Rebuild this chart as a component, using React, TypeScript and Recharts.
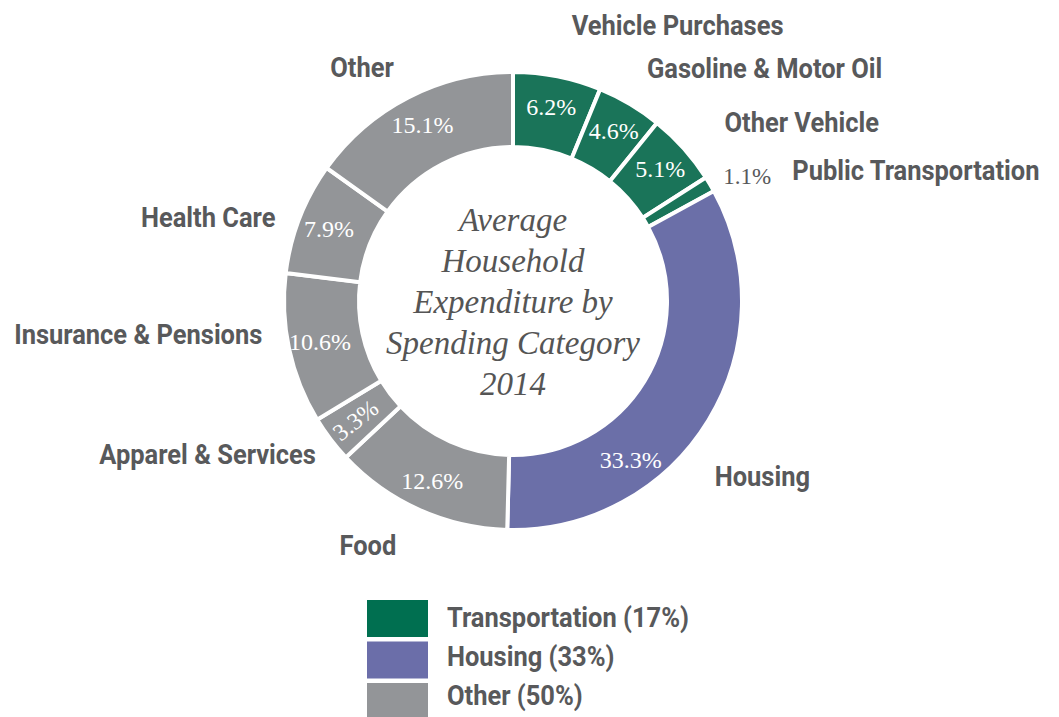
import React from 'react';
import { PieChart, Pie, Cell } from 'recharts';

const CATEGORIES = [
  'Vehicle Purchases', 'Gasoline & Motor Oil', 'Other Vehicle', 'Public Transportation',
  'Housing', 'Food', 'Apparel & Services', 'Insurance & Pensions', 'Health Care', 'Other',
];
const SHARES = [6.2, 4.6, 5.1, 1.1, 33.3, 12.6, 3.3, 10.6, 7.9, 15.1];
const CATEGORY_GROUP = [0, 0, 0, 0, 1, 2, 2, 2, 2, 2];

const GROUPS = ['Transportation', 'Housing', 'Other'];
const GROUP_SHARES = [17, 33, 50];

const TITLE_LINES = ['Average', 'Household', 'Expenditure by', 'Spending Category', '2014'];

const SLICE_COLORS = ['#1a7459', '#6b6fa8', '#939598'];
const LEGEND_COLORS = ['#006f50', '#6b6ea9', '#939598'];
const TEXT = '#58595b';
const SANS = "Roboto, 'Liberation Sans', sans-serif";
const SERIF = "'Liberation Serif', 'DejaVu Serif', serif";
const NARROW = 0.91; // squeeze the sans labels to look condensed

// label layout tweaks (nudges from the computed polar point)
const NAME_NUDGE: [number, number][] = [
  [12, -30], [11, -16], [32, -8], [72, 2], [-4, 59],
  [-18, 34], [-5, 17], [-15, -7], [-13, 13], [-9, -10],
];
const VALUE_ANGLE_SHIFT = [0, 0, 0, 0, -22, 0, 0, 0, 0, 0];
const VALUE_ROTATE = [0, 0, 0, 0, 0, 0, -38, 0, 0, 0];

const data = CATEGORIES.map((name, i) => ({ name, value: SHARES[i], group: CATEGORY_GROUP[i] }));

const RAD = Math.PI / 180;

function renderLabel(props: any) {
  const { cx, cy, midAngle, innerRadius, outerRadius, index, value } = props;
  const outer = outerRadius - 2 + 14;
  const nx = cx + outer * Math.cos(-midAngle * RAD);
  const ny = cy + outer * Math.sin(-midAngle * RAD);
  const right = Math.cos(-midAngle * RAD) >= 0;
  const [dx, dy] = NAME_NUDGE[index];

  const inside = value >= 2;
  const ang = midAngle + VALUE_ANGLE_SHIFT[index];
  const mr = (innerRadius + outerRadius) / 2 + 6;
  const vx = cx + mr * Math.cos(-ang * RAD);
  const vy = cy + mr * Math.sin(-ang * RAD);

  return (
    <g>
      <text x={0} y={0} transform={`translate(${nx + dx},${ny + dy}) scale(${NARROW},1)`}
        textAnchor={right ? 'start' : 'end'}
        fill={TEXT} fontFamily={SANS} fontWeight={700} fontSize={28}>
        {CATEGORIES[index]}
      </text>
      {inside ? (
        <text x={vx} y={vy} textAnchor="middle" dominantBaseline="central"
          transform={VALUE_ROTATE[index] ? `rotate(${VALUE_ROTATE[index]} ${vx} ${vy})` : undefined}
          fill="#ffffff" fontFamily={SERIF} fontSize={24}>
          {value.toFixed(1)}%
        </text>
      ) : (
        <text x={nx + 3} y={ny + 6} textAnchor="start" fill={TEXT} fontFamily={SERIF} fontSize={23}>
          {value.toFixed(1)}%
        </text>
      )}
    </g>
  );
}

export default function App() {
  return (
    <div style={{ position: 'absolute', left: 0, top: 0, width: 1059, height: 717, background: '#fff', overflow: 'hidden' }}>
      <PieChart width={1059} height={717} margin={{ top: 0, right: 0, bottom: 0, left: 0 }}>
        <Pie data={data} dataKey="value" nameKey="name" cx={513} cy={301}
          innerRadius={154} outerRadius={229} startAngle={90} endAngle={-270}
          stroke="#ffffff" strokeWidth={4} label={renderLabel} labelLine={false}
          isAnimationActive={false}>
          {data.map((d, i) => (
            <Cell key={i} fill={SLICE_COLORS[d.group]} />
          ))}
        </Pie>
      </PieChart>
      <svg width={1059} height={717} style={{ position: 'absolute', left: 0, top: 0, pointerEvents: 'none' }}>
        {TITLE_LINES.map((t, i) => (
          <text key={t} x={513} y={231 + i * 41} textAnchor="middle" fill="#555555"
            fontFamily={SERIF} fontStyle="italic" fontSize={33}>
            {t}
          </text>
        ))}
        {/* legend */}
        {GROUPS.map((g, i) => (
          <g key={g}>
            <rect x={367} y={600 + i * 41.5} width={61} height={37} fill={LEGEND_COLORS[i]} />
            <text x={0} y={0} transform={`translate(447,${627 + i * 39}) scale(${NARROW},1)`}
              fill={TEXT} fontFamily={SANS} fontWeight={700} fontSize={28}>
              {g} ({GROUP_SHARES[i]}%)
            </text>
          </g>
        ))}
      </svg>
    </div>
  );
}
